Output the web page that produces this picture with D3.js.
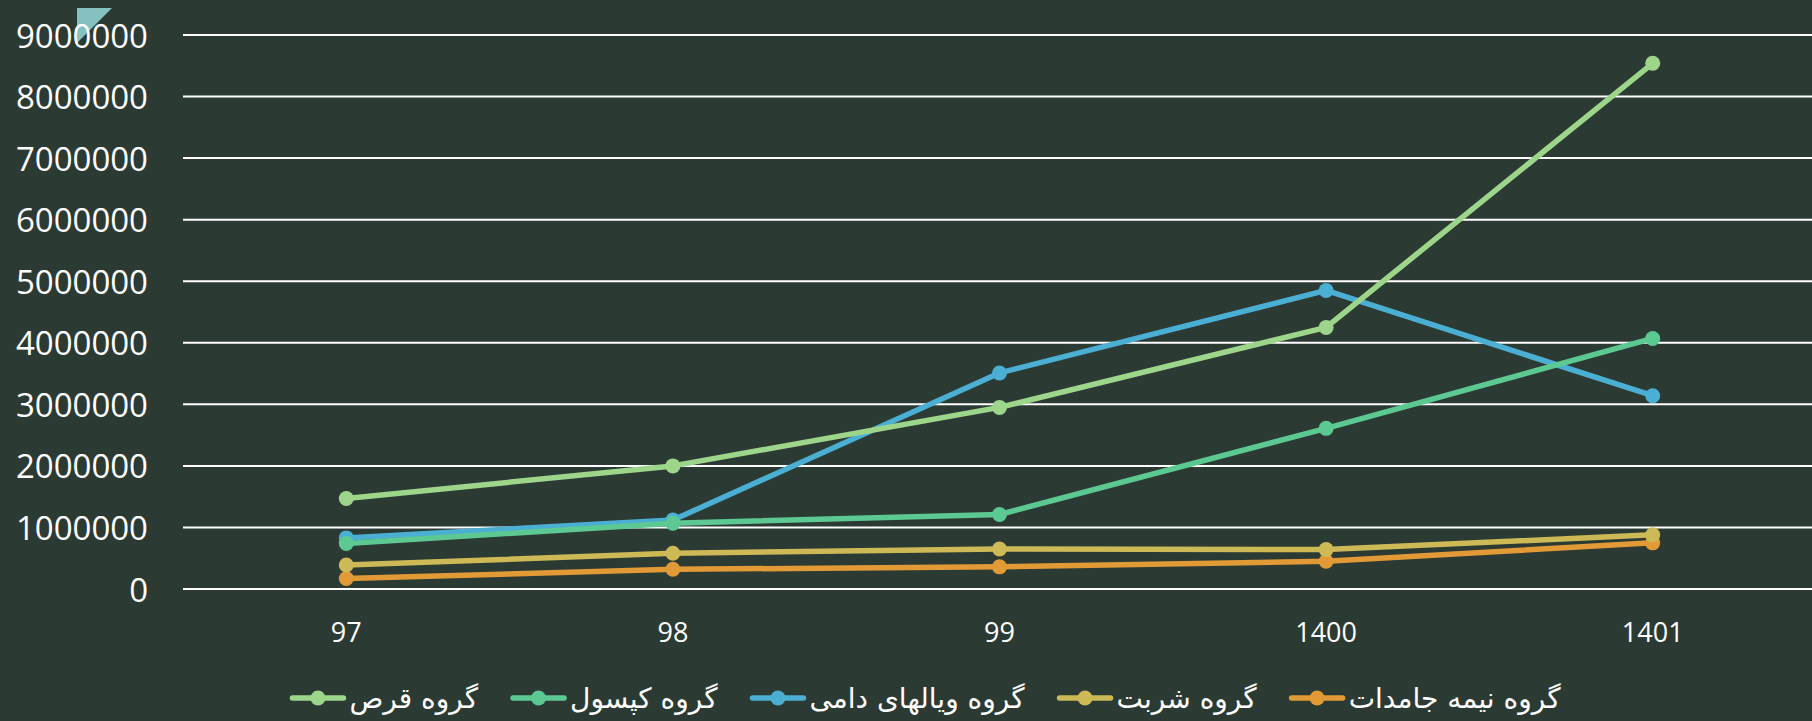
<!DOCTYPE html>
<html>
<head>
<meta charset="utf-8">
<script src="https://cdn.jsdelivr.net/npm/d3@7"></script>
<style>
  html, body { margin: 0; padding: 0; background: #2c3a34; }
  svg { display: block; }
</style>
</head>
<body>
<div class="chart"></div>
<script>
var w = 1812;
var h = 721;

// data
var years = ["97", "98", "99", "1400", "1401"];
var seriesNames = ["گروه قرص", "گروه کپسول", "گروه ویالهای دامی", "گروه شربت", "گروه نیمه جامدات"];
var colors = ["#9dd68a", "#5cc993", "#4bafd4", "#cdb955", "#e29a36"];
var tablet = [1470000, 2000000, 2950000, 4250000, 8540000];
var capsule = [740000, 1070000, 1210000, 2610000, 4070000];
var vial = [830000, 1120000, 3510000, 4850000, 3140000];
var syrup = [390000, 580000, 650000, 640000, 880000];
var semiSolid = [170000, 320000, 360000, 450000, 750000];
var yTicks = [0, 1000000, 2000000, 3000000, 4000000, 5000000, 6000000, 7000000, 8000000, 9000000];

var allSeries = [tablet, capsule, vial, syrup, semiSolid];

var plotLeft = 183, plotRight = 1812, plotTop = 35, plotBottom = 589;

// the category band runs a little past the right edge of the page
var xScale = d3.scalePoint()
                .domain(years)
                .range([183, 1816])
                .padding(0.5);

var yScale = d3.scaleLinear()
                .domain([0, 9000000])
                .range([plotBottom, plotTop]);

var svg = d3.select(".chart")
            .append("svg")
            .attr("width", w)
            .attr("height", h);

svg.append("rect")
    .attr("width", w)
    .attr("height", h)
    .attr("fill", "#2c3a34");

// small corner triangle
svg.append("path")
    .attr("d", "M77,8 L112,8 L77,43 Z")
    .attr("fill", "#86c0bf");

// gridlines
svg.selectAll("line.grid")
    .data(yTicks)
    .enter()
    .append("line")
    .attr("class", "grid")
    .attr("x1", plotLeft)
    .attr("x2", plotRight)
    .attr("y1", function (d) { return yScale(d); })
    .attr("y2", function (d) { return yScale(d); })
    .attr("stroke", "#ffffff")
    .attr("stroke-width", 2);

// y labels
svg.selectAll("text.ylab")
    .data(yTicks)
    .enter()
    .append("text")
    .attr("class", "ylab")
    .text(function (d) { return d; })
    .attr("text-anchor", "end")
    .attr("dominant-baseline", "central")
    .attr("x", 148)
    .attr("y", function (d) { return yScale(d); })
    .attr("font-family", "Open Sans, sans-serif")
    .attr("font-size", "33px")
    .attr("fill", "#ffffff");

// x labels
svg.selectAll("text.xlab")
    .data(years)
    .enter()
    .append("text")
    .attr("class", "xlab")
    .text(function (d) { return d; })
    .attr("text-anchor", "middle")
    .attr("dominant-baseline", "central")
    .attr("x", function (d) { return xScale(d); })
    .attr("y", 631)
    .attr("font-family", "Open Sans, sans-serif")
    .attr("font-size", "27px")
    .attr("fill", "#ffffff");

var line = d3.line()
    .x(function (d, i) { return xScale(years[i]); })
    .y(function (d) { return yScale(d); });

// draw bottom series first so the tablet line sits on top
for (var s = allSeries.length - 1; s >= 0; s--) {
    var g = svg.append("g");
    g.append("path")
        .datum(allSeries[s])
        .attr("d", line)
        .attr("fill", "none")
        .attr("stroke", colors[s])
        .attr("stroke-width", 5.5)
        .attr("stroke-linejoin", "round");
    g.selectAll("circle")
        .data(allSeries[s])
        .enter()
        .append("circle")
        .attr("cx", function (d, i) { return xScale(years[i]); })
        .attr("cy", function (d) { return yScale(d); })
        .attr("r", 7.5)
        .attr("fill", colors[s]);
}

// legend
var legend = svg.append("g");
var cursor = 0;
var gap = 32;
seriesNames.forEach(function (name, i) {
    var item = legend.append("g");
    item.append("line")
        .attr("x1", 3).attr("x2", 54)
        .attr("y1", 0).attr("y2", 0)
        .attr("stroke", colors[i])
        .attr("stroke-width", 5.5)
        .attr("stroke-linecap", "round");
    item.append("circle")
        .attr("cx", 28.5).attr("cy", 0).attr("r", 7.5)
        .attr("fill", colors[i]);
    var t = item.append("text")
        .text(name)
        .attr("x", 60)
        .attr("y", 0)
        .attr("dominant-baseline", "central")
        .attr("font-family", "DejaVu Sans, Noto Sans, sans-serif")
        .attr("font-size", "28px")
        .attr("fill", "#ffffff");
    var tw = t.node().getComputedTextLength();
    item.attr("transform", "translate(" + cursor + ",0)");
    cursor += 60 + tw + gap;
});
var total = cursor - gap;
legend.attr("transform", "translate(" + (925 - total / 2) + ",698)");
</script>
</body>
</html>
